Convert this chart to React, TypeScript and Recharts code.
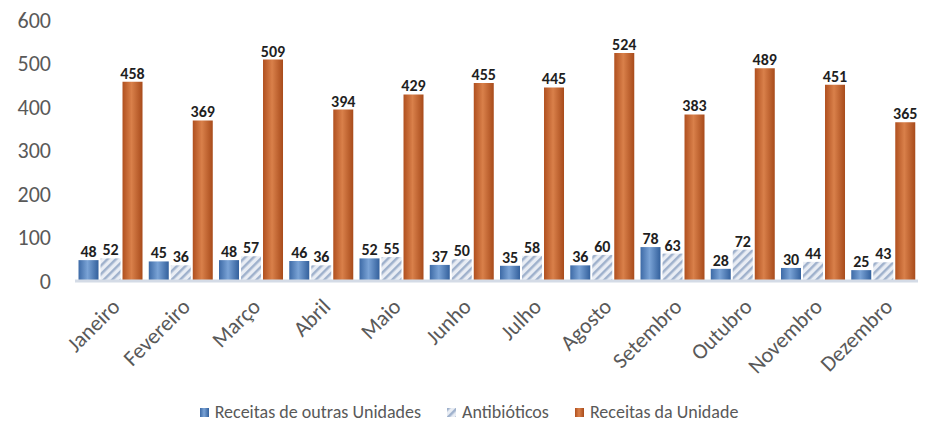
import React from "react";
import {
  BarChart,
  Bar,
  XAxis,
  YAxis,
  Legend,
  LabelList,
} from "recharts";

const months = [
  "Janeiro",
  "Fevereiro",
  "Março",
  "Abril",
  "Maio",
  "Junho",
  "Julho",
  "Agosto",
  "Setembro",
  "Outubro",
  "Novembro",
  "Dezembro",
];
const outrasUnidades = [48, 45, 48, 46, 52, 37, 35, 36, 78, 28, 30, 25];
const antibioticos = [52, 36, 57, 36, 55, 50, 58, 60, 63, 72, 44, 43];
const daUnidade = [458, 369, 509, 394, 429, 455, 445, 524, 383, 489, 451, 365];
const yTicks = [0, 100, 200, 300, 400, 500, 600];

const data = months.map((m, i) => ({
  month: m,
  outras: outrasUnidades[i],
  antib: antibioticos[i],
  unidade: daUnidade[i],
}));

const FONT = "Carlito, Lato, 'Liberation Sans', sans-serif";

const labelStyle = {
  fontFamily: FONT,
  fontSize: 16,
  fontWeight: 700,
  fill: "#1f1f1f",
};

const legendItems = [
  { name: "Receitas de outras Unidades", fill: "url(#gBlue)" },
  { name: "Antibióticos", fill: "url(#pStripe)" },
  { name: "Receitas da Unidade", fill: "url(#gOrange)" },
];

// custom legend so the order follows the series order
const LegendContent = () => (
  <div
    style={{
      display: "flex",
      justifyContent: "center",
      gap: 26,
      fontFamily: FONT,
      fontSize: 18,
      color: "#595959",
      paddingLeft: 20,
    }}
  >
    {legendItems.map((it) => (
      <span key={it.name} style={{ display: "inline-flex", alignItems: "center" }}>
        <svg width={9} height={9} style={{ marginRight: 6 }}>
          <rect width={9} height={9} fill={it.fill} />
        </svg>
        {it.name}
      </span>
    ))}
  </div>
);

export default function App() {
  return (
    <div style={{ position: "absolute", left: 0, top: 0, background: "#fff" }}>
      <BarChart
        width={934}
        height={427}
        data={data}
        margin={{ top: 20, right: 16, bottom: 4, left: 0 }}
        barCategoryGap="5%"
        barGap={2}
      >
        <defs>
          <linearGradient id="gBlue" x1="0" y1="0" x2="1" y2="0">
            <stop offset="0%" stopColor="#3d6aa6" />
            <stop offset="45%" stopColor="#7aa3d6" />
            <stop offset="100%" stopColor="#33609c" />
          </linearGradient>
          <linearGradient id="gOrange" x1="0" y1="0" x2="1" y2="0">
            <stop offset="0%" stopColor="#b0501f" />
            <stop offset="45%" stopColor="#d9804a" />
            <stop offset="100%" stopColor="#a84b1b" />
          </linearGradient>
          <pattern
            id="pStripe"
            width="6"
            height="6"
            patternUnits="userSpaceOnUse"
            patternTransform="rotate(45)"
          >
            <rect width="6" height="6" fill="#e9edf4" />
            <rect width="2.5" height="6" fill="#9fb1cc" />
          </pattern>
        </defs>
        <XAxis
          dataKey="month"
          interval={0}
          height={120}
          axisLine={{ stroke: "#d4dbe6", strokeWidth: 3 }}
          tickLine={false}
          tick={{
            fontFamily: FONT,
            fontSize: 22,
            fill: "#595959",
            angle: -45,
            textAnchor: "end",
          }}
          tickMargin={10}
        />
        <YAxis
          domain={[0, 600]}
          ticks={yTicks}
          width={75}
          axisLine={false}
          tickLine={false}
          tickMargin={18}
          tick={{ fontFamily: FONT, fontSize: 22, fill: "#595959" }}
        />
        <Legend verticalAlign="bottom" content={<LegendContent />} />
        <Bar
          dataKey="outras"
          name="Receitas de outras Unidades"
          fill="url(#gBlue)"
          isAnimationActive={false}
        >
          <LabelList dataKey="outras" position="top" offset={3} style={labelStyle} />
        </Bar>
        <Bar
          dataKey="antib"
          name="Antibióticos"
          fill="url(#pStripe)"
          isAnimationActive={false}
        >
          <LabelList dataKey="antib" position="top" offset={3} style={labelStyle} />
        </Bar>
        <Bar
          dataKey="unidade"
          name="Receitas da Unidade"
          fill="url(#gOrange)"
          isAnimationActive={false}
        >
          <LabelList dataKey="unidade" position="top" offset={3} style={labelStyle} />
        </Bar>
      </BarChart>
    </div>
  );
}
